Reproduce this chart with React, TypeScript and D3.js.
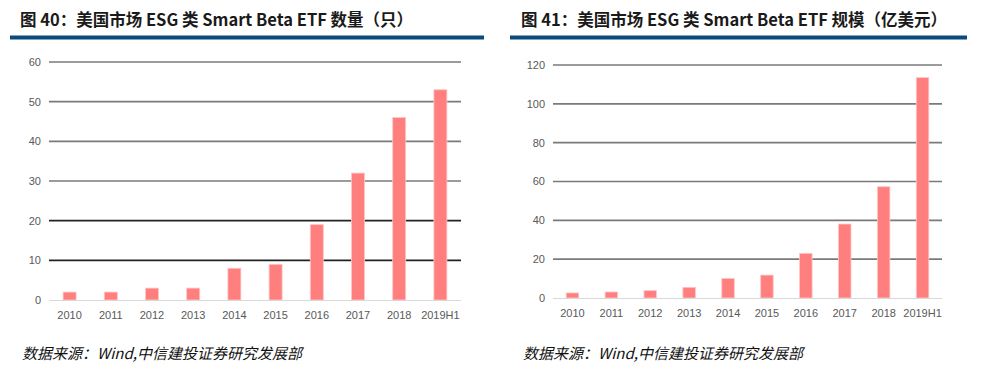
import React, { useEffect, useRef } from 'react';
import * as d3 from 'd3';

const years = ['2010', '2011', '2012', '2013', '2014', '2015', '2016', '2017', '2018', '2019H1'];
const countValues = [2, 2, 3, 3, 8, 9, 19, 32, 46, 53];
const sizeValues = [2.6, 3.1, 3.8, 5.5, 10.1, 11.8, 23, 38.1, 57.3, 113.5];
const countTicks = [0, 10, 20, 30, 40, 50, 60];
const sizeTicks = [0, 20, 40, 60, 80, 100, 120];

const titleLeft = '图 40：美国市场 ESG 类 Smart Beta ETF 数量（只）';
const titleRight = '图 41：美国市场 ESG 类 Smart Beta ETF 规模（亿美元）';
const source = '数据来源：Wind,中信建投证券研究发展部';

const W = 982,
  H = 374;

const panel = (svg, opt) => {
  const g = svg.append('g');

  // header
  g.append('text')
    .attr('x', opt.titleX)
    .attr('y', 26)
    .attr('font-family', '"Noto Sans CJK SC", "Noto Sans", sans-serif')
    .attr('font-weight', 'bold')
    .attr('font-size', 16.5)
    .attr('fill', '#1a1a1a')
    .text(opt.title);
  g.append('rect')
    .attr('x', opt.barX0)
    .attr('y', 35.5)
    .attr('width', opt.barX1 - opt.barX0)
    .attr('height', 4)
    .attr('fill', '#0B4A7D');

  const x = d3.scaleBand().domain(years).range([opt.x0, opt.x1]);
  const y = d3.scaleLinear().domain([0, opt.max]).range([opt.y0, opt.y1]);

  // grid
  opt.ticks.forEach((t) => {
    if (t > 0) {
      g.append('line')
        .attr('x1', opt.x0)
        .attr('x2', opt.x1)
        .attr('y1', y(t))
        .attr('y2', y(t))
        .attr('stroke', opt.dark.includes(t) ? '#222' : '#7a7a7a')
        .attr('stroke-width', 1.6);
    }
    g.append('text')
      .attr('x', opt.x0 - 8)
      .attr('y', y(t))
      .attr('dy', '0.35em')
      .attr('text-anchor', 'end')
      .attr('font-family', 'Arial, "Liberation Sans", sans-serif')
      .attr('font-size', 11)
      .attr('fill', '#595959')
      .text(t);
  });

  // bars
  const bw = opt.barW;
  g.selectAll('rect.bar')
    .data(opt.values)
    .enter()
    .append('rect')
    .attr('class', 'bar')
    .attr('x', (d, i) => x(years[i]) + x.bandwidth() / 2 - bw / 2)
    .attr('y', (d) => y(d))
    .attr('width', bw)
    .attr('height', (d) => y(0) - y(d))
    .attr('fill', '#FF7F7F')
    .attr('stroke', '#FFC7C7')
    .attr('stroke-width', 0.8);

  // baseline
  g.append('line')
    .attr('x1', opt.x0)
    .attr('x2', opt.x1)
    .attr('y1', y(0) + 0.5)
    .attr('y2', y(0) + 0.5)
    .attr('stroke', '#d9d9d9')
    .attr('stroke-width', 1);

  // x labels
  years.forEach((yr) => {
    g.append('text')
      .attr('x', x(yr) + x.bandwidth() / 2)
      .attr('y', y(0) + 19)
      .attr('text-anchor', 'middle')
      .attr('font-family', 'Arial, "Liberation Sans", sans-serif')
      .attr('font-size', 11)
      .attr('fill', '#595959')
      .text(yr);
  });

  // source
  g.append('text')
    .attr('x', opt.titleX + 2)
    .attr('y', 359)
    .attr('font-family', '"Noto Sans CJK SC", sans-serif')
    .attr('font-style', 'italic')
    .attr('font-size', 15)
    .attr('fill', '#111')
    .text(source);
};

const App = () => {
  const ref = useRef(null);

  useEffect(() => {
    document.body.style.margin = '0';
    const el = ref.current;
    if (!el) return;
    d3.select(el).selectAll('*').remove();
    const svg = d3.select(el).append('svg').attr('width', W).attr('height', H);
    svg.append('rect').attr('width', W).attr('height', H).attr('fill', '#fff');

    panel(svg, {
      title: titleLeft,
      titleX: 20,
      barX0: 10,
      barX1: 484,
      x0: 49,
      x1: 461,
      y0: 300,
      y1: 62,
      max: 60,
      ticks: countTicks,
      dark: [10, 20],
      values: countValues,
      barW: 13,
    });

    panel(svg, {
      title: titleRight,
      titleX: 521,
      barX0: 510,
      barX1: 967,
      x0: 553,
      x1: 942,
      y0: 298,
      y1: 65,
      max: 120,
      ticks: sizeTicks,
      dark: [],
      values: sizeValues,
      barW: 12.5,
    });
  }, []);

  return <div id="chart" ref={ref} />;
};

export default App;
